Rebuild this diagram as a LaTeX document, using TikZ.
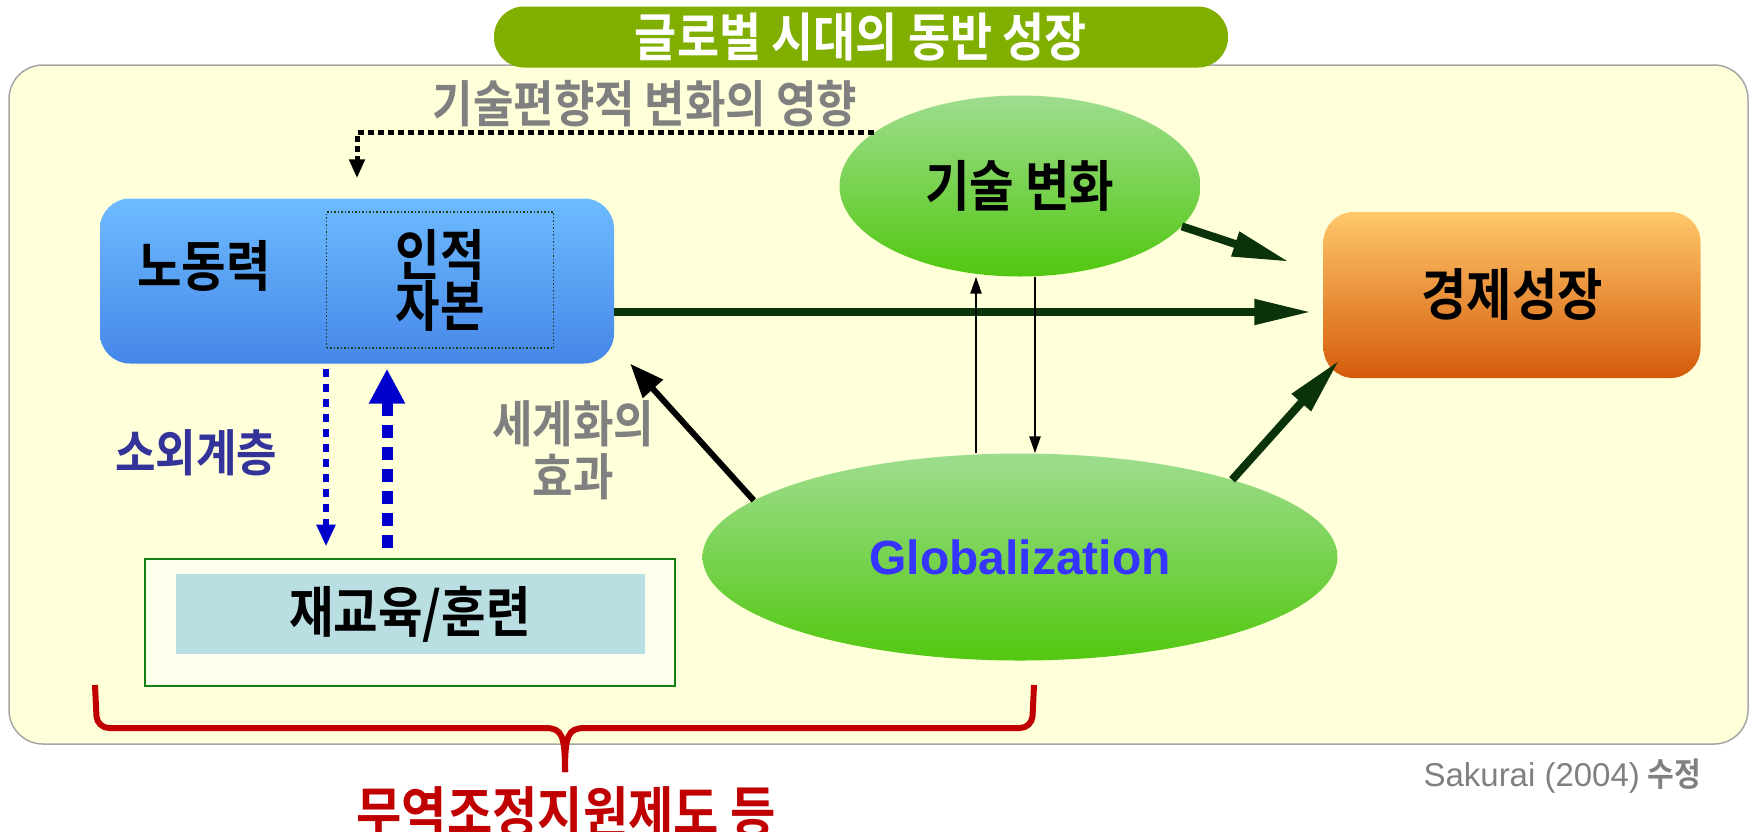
\documentclass[tikz,border=0pt]{standalone}
\usepackage{fontspec}
\setmainfont{Noto Sans CJK KR}[BoldFont={* Bold},BoldFeatures={FakeStretch=0.88}]
\newfontfamily\arialfont{Liberation Sans}
\usetikzlibrary{arrows.meta,positioning,calc,shapes.geometric}
\definecolor{pillgreen}{HTML}{80AF00}
\definecolor{paleyellow}{HTML}{FFFFD9}
\definecolor{panelgray}{HTML}{A6A6A6}
\definecolor{wordgray}{HTML}{808080}
\definecolor{blueTop}{HTML}{6EBBFF}
\definecolor{blueBot}{HTML}{4587E8}
\definecolor{dotgreen}{HTML}{1F3F1F}
\definecolor{orangeTop}{HTML}{FFC86B}
\definecolor{orangeBot}{HTML}{D55B0B}
\definecolor{greenTop}{HTML}{9EDD8F}
\definecolor{greenBot}{HTML}{52C810}
\definecolor{globblue}{HTML}{3535FF}
\definecolor{exclblue}{HTML}{333399}
\definecolor{boxgreen}{HTML}{138013}
\definecolor{paleCream}{HTML}{FFFFEE}
\definecolor{paleCyan}{HTML}{B9DFE3}
\definecolor{arrowgreen}{HTML}{0A330A}
\definecolor{dashblue}{HTML}{0000CC}
\definecolor{braceRed}{HTML}{C00000}
\begin{document}
\begin{tikzpicture}[x=1pt,y=-1pt,
  panel/.style={draw=panelgray,line width=1.5pt,fill=paleyellow,rounded corners=34pt},
  pill/.style={fill=pillgreen,rounded corners=30pt,minimum width=734pt,minimum height=61pt,inner sep=0pt,text=white,font=\bfseries\fontsize{52}{56}\selectfont},
  word/.style={font=\bfseries\fontsize{55}{56}\selectfont,align=center,inner sep=0pt},
  greyword/.style={word,text=wordgray,font=\bfseries\fontsize{50}{53}\selectfont},
  labour/.style={rounded corners=30pt,top color=blueTop,bottom color=blueBot,minimum width=514pt,minimum height=165pt,inner sep=0pt},
  hcbox/.style={word,draw=dotgreen,dotted,line width=1.5pt,minimum width=227pt,minimum height=136pt,font=\bfseries\fontsize{55}{51}\selectfont},
  goalbox/.style={word,rounded corners=30pt,top color=orangeTop,bottom color=orangeBot,minimum width=377pt,minimum height=166pt,font=\bfseries\fontsize{56}{56}\selectfont},
  blob/.style={word,ellipse,top color=greenTop,bottom color=greenBot},
  outerbox/.style={draw=boxgreen,line width=2pt,fill=paleCream,minimum width=530pt,minimum height=127pt,inner sep=0pt},
  innerbox/.style={word,fill=paleCyan,minimum width=469pt,minimum height=80pt,font=\bfseries\fontsize{55}{56}\selectfont},
  bigarr/.style={draw=arrowgreen,line width=8pt,-{Triangle[length=57pt,width=24pt]}},
  blackarr/.style={line width=6pt,-{Triangle[length=34pt,width=26pt]}},
  thinarr/.style={line width=2.5pt,-{Triangle[length=17pt,width=11pt]}},
  skewdot/.style={line width=5pt,dash pattern=on 6pt off 4pt,-{Triangle[length=19pt,width=15pt]}},
  lowdash/.style={draw=dashblue,line width=6pt,dash pattern=on 8pt off 7pt,-{Triangle[length=22pt,width=18pt]}},
  updash/.style={draw=dashblue,line width=11pt,dash pattern=on 13pt off 9pt,-{Triangle[length=35pt,width=34pt]}},
  redbrace/.style={draw=braceRed,line width=6pt}]
\useasboundingbox (0,0) rectangle (1750,831);
\clip (0,0) rectangle (1750,831);
\fill[white] (0,0) rectangle (1750,831);
\draw[panel] (9,65) rectangle (1748,744);
\node[pill] (title) at (861,37) {글로벌 시대의 동반 성장};
\node[greyword] (bias) at (645,104) {기술편향적 변화의 영향};
\node[labour] (lab) at (357,281) {};
\node[word] (labtxt) at (204,266) {노동력};
\node[hcbox] (hc) at (440,280) {인적\\자본};
\node[blob,minimum width=361pt,minimum height=181pt] (tech) at (1020,186) {기술 변화};
\node[goalbox] (growth) at (1512,295) {경제성장};
\node[blob,minimum width=635pt,minimum height=207pt,text=globblue,font=\arialfont\bfseries\fontsize{48}{50}\selectfont] (glob) at (1020,557) {Globalization};
\node[word,text=exclblue,font=\bfseries\fontsize{50}{50}\selectfont] (excl) at (196,453) {소외계층};
\node[greyword] (effect) at (573,450) {세계화의\\효과};
\node[outerbox] (train) at (410,622) {};
\node[innerbox] (retrain) at (410,614) {재교육/훈련};
\node[word,text=braceRed,font=\bfseries\fontsize{56}{56}\selectfont] (tac) at (566,813) {무역조정지원제도 등};
\node[anchor=east,text=wordgray,inner sep=0pt,font=\fontsize{33}{36}\selectfont] (src) at (1701,776) {{\arialfont Sakurai (2004)} \textbf{수정}};
\draw[skewdot] (tech.160) -| ([yshift=20pt]lab.north);
\draw[bigarr] ([yshift=-31pt]lab.east) -- ([xshift=-12pt,yshift=-17pt]growth.west);
\draw[bigarr] (tech.-14) -- ([xshift=-34pt,yshift=-50pt]growth.north west);
\draw[bigarr] (glob.20) -- ([xshift=16pt,yshift=18pt]growth.south west);
\draw[blackarr] (glob.168) -- ([xshift=16pt]lab.south east);
\draw[thinarr] ([xshift=-44pt]glob.north) -- ([xshift=-44pt]tech.south);
\draw[thinarr] ([xshift=15pt]tech.south) -- ([xshift=15pt]glob.north);
\draw[lowdash] ([xshift=-31pt,yshift=-5pt]lab.south) -- ([xshift=-84pt,yshift=11pt]train.north);
\draw[updash] ([xshift=-23pt,yshift=10pt]train.north) -- ([xshift=30pt,yshift=-5pt]lab.south);
\draw[redbrace,rounded corners=12pt] (95,685) -- (97,728) -- (545,728);
\draw[redbrace] (545,728) .. controls (562,728) and (565,735) .. (565,772);
\draw[redbrace,rounded corners=12pt] (1034,685) -- (1032,728) -- (585,728);
\draw[redbrace] (585,728) .. controls (568,728) and (565,735) .. (565,772);
\end{tikzpicture}
\end{document}
